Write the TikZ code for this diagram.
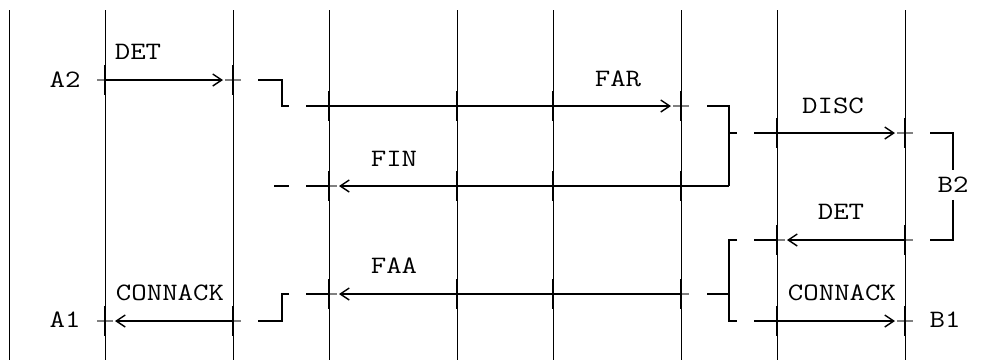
\documentclass[tikz,border=0pt]{standalone}
\usepackage{fontspec}
\setmonofont[FakeStretch=1.2]{Latin Modern Mono}
\usetikzlibrary{arrows.meta}
\tikzset{
  every picture/.style={line width=1.8pt},
  lifeline/.style={line width=0.9pt},
  msg/.style={line width=1.8pt},
  sent/.style={msg, -{Straight Barb[length=9pt, width=12pt, line width=1.4pt]}, shorten >=10pt},
  lbl/.style={font=\ttfamily\fontsize{25}{25}\selectfont, inner sep=0pt},
  pics/tick/.style={code={
    \draw[gray, line width=1.2pt] (-8,0) -- (8,0);
    \draw[line width=2.6pt] (0,-15) -- (0,15);
  }},
}

\begin{document}
\begin{tikzpicture}[x=1pt, y=-1pt]
  \useasboundingbox (0,0) rectangle (991,360);
  % lifelines
  \foreach \x in {9, 105, 233, 329, 457, 553, 681, 777, 905}
    \draw[lifeline] (\x,10) -- (\x,360);
  % crossing points, one row per message
  \foreach \r/\y in {det/80, far/106, disc/133, fin/186, back/240, faa/294, ack/321}
    \foreach \n/\x in {1/105, 2/233, 3/329, 4/457, 5/553, 6/681, 7/777, 8/905}
      \coordinate (\r\n) at (\x,\y);
  \foreach \p in {det1, det2, far3, far4, far5, far6, disc7, disc8,
                  fin3, fin4, fin5, fin6, back7, back8, faa3, faa4, faa5, faa6,
                  ack1, ack2, ack7, ack8}
    \pic at (\p) {tick};

  % end points
  \node[lbl] (a2) at (65,80) {A2};
  \node[lbl] (a1) at (65,320) {A1};
  \node[lbl, minimum height=28pt] (b2) at (953,185) {B2};
  \node[lbl] (b1) at (945,320) {B1};

  % message names
  \node[lbl] (lDet) at (138,52) {DET};
  \node[lbl] (lFar) at (618,79) {FAR};
  \node[lbl] (lDisc) at (833,106) {DISC};
  \node[lbl] (lFin) at (394,159) {FIN};
  \node[lbl] (lBack) at (841,212) {DET};
  \node[lbl] (lFaa) at (394,266) {FAA};
  \node[lbl] (lAck) at (170,293) {CONNACK};
  \node[lbl] (lAckB) at (842,293) {CONNACK};

  % A2 side out to B2
  \draw[sent] (det1) -- (det2);
  \draw[msg] ([xshift=25pt]det2) -| ([xshift=-47pt]far3) -- ++(7,0);
  \draw[sent] ([xshift=-23pt]far3) -- (far6);
  \draw[msg] ([xshift=26pt]far6) -| ([xshift=48pt]fin6);
  \draw[sent] ([xshift=48pt]fin6) -- (fin3);
  \draw[msg] ([xshift=-23pt]fin3) -- (fin3);
  \draw[msg] ([xshift=-55pt]fin3) -- ++(15,0);
  \draw[msg] ([xshift=48pt]disc6) -- ++(8,0);
  \draw[sent] ([xshift=-23pt]disc7) -- (disc8);
  \draw[msg] ([xshift=25pt]disc8) -| (b2.north);

  % B2 back to A1 and B1
  \draw[msg] (b2.south) |- ([xshift=25pt]back8);
  \draw[sent] (back8) -- (back7);
  \draw[msg] (back7) -- ++(-23,0);
  \draw[msg] ([xshift=-40pt]back7) -| ([xshift=-48pt]ack7) -- ++(8,0);
  \draw[msg] ([xshift=26pt]faa6) -- ++(22,0);
  \draw[sent] (faa6) -- (faa3);
  \draw[msg] ([xshift=-23pt]faa3) -- (faa3);
  \draw[msg] ([xshift=-40pt]faa3) -| ([xshift=-47pt]ack3) -- ([xshift=25pt]ack2);
  \draw[sent] (ack2) -- (ack1);
  \draw[sent] ([xshift=-23pt]ack7) -- (ack8);
\end{tikzpicture}
\end{document}
